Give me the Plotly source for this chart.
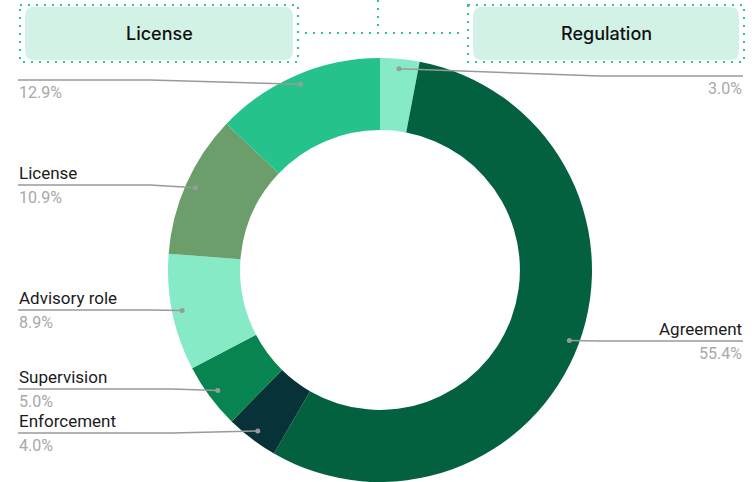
import math
import plotly.graph_objects as go

# ---- data ----
names = ["", "Agreement", "Enforcement", "Supervision", "Advisory role", "License", ""]
values = [3.0, 55.4, 4.0, 5.0, 8.9, 10.9, 12.9]
colors = ["#86EAC6", "#03613F", "#063238", "#088450", "#86EAC6", "#6B9E6B", "#26C28B"]
box_labels = ["License", "Regulation"]

# ---- layout constants ----
W, H = 752, 482
CX, CY, R = 380, 270, 212
HOLE = 0.66
DOT_R = 0.953 * R
label_side = ["right", "right", "left", "left", "left", "left", "left"]
label_y = [76, 341, 433, 389, 310, 185, 80]
label_bend = [600, 600, 172, 172, 150, 150, 150]
LEFT_X, RIGHT_X = 18, 743

fig = go.Figure()
fig.add_trace(go.Pie(
    labels=[n if n else f"{v}%" for n, v in zip(names, values)],
    values=values,
    sort=False,
    direction="clockwise",
    rotation=0,
    hole=HOLE,
    marker=dict(colors=colors, line=dict(width=0)),
    textinfo="none",
    hoverinfo="label+percent",
    showlegend=False,
    domain=dict(x=[(CX - R) / W, (CX + R) / W], y=[(H - CY - R) / H, (H - CY + R) / H]),
))

shapes = []
annotations = []
total = sum(values)
cum = 0.0
for i, v in enumerate(values):
    mid = (cum + v / 2) / total * 2 * math.pi
    cum += v
    dx = CX + DOT_R * math.sin(mid)
    dy = CY - DOT_R * math.cos(mid)
    ly = label_y[i]
    ex = RIGHT_X if label_side[i] == "right" else LEFT_X
    bx = label_bend[i]
    shapes.append(dict(type="path", xref="x", yref="y", layer="above",
                       path=f"M {ex},{ly} L {bx},{ly} L {dx:.2f},{dy:.2f}",
                       line=dict(color="#9a9a9a", width=1.5)))
    shapes.append(dict(type="circle", xref="x", yref="y", layer="above",
                       x0=dx - 2.5, x1=dx + 2.5, y0=dy - 2.5, y1=dy + 2.5,
                       fillcolor="#9a9a9a", line=dict(width=0)))
    anchor = "right" if label_side[i] == "right" else "left"
    if names[i]:
        annotations.append(dict(x=ex, y=ly, xref="x", yref="y", text=names[i],
                                showarrow=False, xanchor=anchor, yanchor="bottom",
                                font=dict(family="Roboto", size=17, color="#1a1a1a"),
                                borderpad=0, yshift=1))
    annotations.append(dict(x=ex, y=ly, xref="x", yref="y", text=f"{v:.1f}%",
                            showarrow=False, xanchor=anchor, yanchor="top",
                            font=dict(family="Roboto", size=16, color="#a8a8a8"),
                            borderpad=0, yshift=-2))


def rounded(x0, y0, x1, y1, r):
    return (f"M {x0+r},{y0} L {x1-r},{y0} Q {x1},{y0} {x1},{y0+r} "
            f"L {x1},{y1-r} Q {x1},{y1} {x1-r},{y1} L {x0+r},{y1} "
            f"Q {x0},{y1} {x0},{y1-r} L {x0},{y0+r} Q {x0},{y0} {x0+r},{y0} Z")


DOT = dict(color="#2CC690", width=2, dash="2px,6px")
boxes = [(20, 5, 298, 62), (468, 5, 744, 62)]
for (x0, y0, x1, y1), txt in zip(boxes, box_labels):
    shapes.append(dict(type="path", xref="x", yref="y", layer="above",
                       path=rounded(x0 + 5, y0 + 2, x1 - 5, y1 - 2, 9),
                       fillcolor="#D3F2E6", line=dict(width=0)))
    shapes.append(dict(type="rect", xref="x", yref="y", layer="above",
                       x0=x0, x1=x1, y0=y0, y1=y1, line=DOT))
    annotations.append(dict(x=(x0 + x1) / 2, y=(y0 + y1) / 2, xref="x", yref="y",
                            text=txt, showarrow=False, xanchor="center", yanchor="middle",
                            font=dict(family="Inter", size=18, color="#111111", weight=500)))

shapes.append(dict(type="line", xref="x", yref="y", layer="above",
                   x0=305, x1=462, y0=33, y1=33, line=DOT))
shapes.append(dict(type="line", xref="x", yref="y", layer="above",
                   x0=378, x1=378, y0=0, y1=33, line=DOT))

fig.update_layout(
    width=W, height=H,
    margin=dict(l=0, r=0, t=0, b=0),
    paper_bgcolor="white", plot_bgcolor="white",
    xaxis=dict(range=[0, W], visible=False, domain=[0, 1], fixedrange=True),
    yaxis=dict(range=[H, 0], visible=False, domain=[0, 1], fixedrange=True),
    shapes=shapes,
    annotations=annotations,
    showlegend=False,
)

fig.write_html("out.html",
               config={"displayModeBar": False},
               post_script="document.body.style.margin='0';document.body.style.overflow='hidden';")
